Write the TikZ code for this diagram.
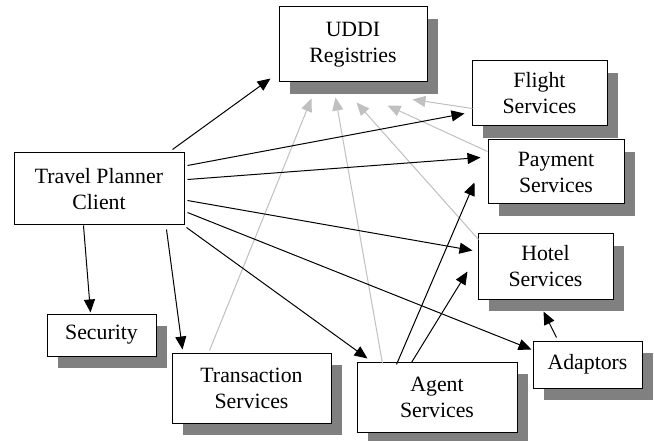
\documentclass[tikz,border=0pt]{standalone}
\usepackage{fontspec}
\setmainfont{Liberation Serif}
\newfontfamily\boxfont{Liberation Serif}
\usetikzlibrary{arrows.meta,calc,shadows}
\definecolor{shadowgray}{RGB}{128,128,128}
\definecolor{linkgray}{RGB}{192,192,192}
\tikzset{
  box/.style={draw=black, line width=1pt, fill=white, inner sep=0pt, align=center,
    font=\boxfont\fontsize{21.8}{26}\selectfont},
  shadowed/.style={drop shadow={shadow xshift=11pt, shadow yshift=-12pt, fill=shadowgray, opacity=1}},
  blackarrow/.style={draw=black, line width=1pt, -{Triangle[length=13pt,width=11pt]}},
  grayarrow/.style={draw=linkgray, line width=1pt, -{Triangle[length=13pt,width=11pt]}}
}
\begin{document}
\begin{tikzpicture}[x=1pt,y=-1pt]
\useasboundingbox (0,0) rectangle (654,441);
\fill[white] (0,0) rectangle (654,441);

\node[box, shadowed, minimum width=148pt, minimum height=75pt] (uddi) at (353,44.5) {UDDI\\Registries};
\node[box, shadowed, minimum width=135pt, minimum height=65pt] (flight) at (539.5,93.5) {Flight\\Services};
\node[box, shadowed, minimum width=136pt, minimum height=64pt] (pay) at (556,172) {Payment\\Services};
\node[box, minimum width=170pt, minimum height=72pt] (tp) at (99,189) {Travel Planner\\Client};
\node[box, shadowed, minimum width=135pt, minimum height=65pt] (hotel) at (545.5,266.5) {Hotel\\Services};
\node[box, shadowed, minimum width=109pt, minimum height=42pt] (sec) at (101.5,335) {Security};
\node[box, shadowed, minimum width=159pt, minimum height=70pt] (trans) at (251.5,388) {Transaction\\Services};
\node[box, shadowed, minimum width=160pt, minimum height=70pt] (agent) at (437,397) {Agent\\Services};
\node[box, shadowed, minimum width=109pt, minimum height=47pt] (adapt) at (587.5,364.5) {Adaptors};

% gray links to the registry
\draw[grayarrow] ($(trans.north west)+(38,-2)$) -- ($(uddi.north west)+(33,92)$);
\draw[grayarrow] ($(agent.north west)+(26,2)$) -- ($(uddi.north west)+(57,91)$);
\draw[grayarrow] ($(hotel.north west)+(1,6)$) -- ($(uddi.north west)+(78,96)$);
\draw[grayarrow] ($(pay.north west)+(0,12)$) -- ($(uddi.north west)+(109,99)$);
\draw[grayarrow] ($(flight.north west)+(1,48)$) -- ($(uddi.north west)+(134,93)$);

% black links
\draw[blackarrow] ($(tp.north west)+(159,-3)$) -- ($(uddi.north west)+(-8,72)$);
\draw[blackarrow] ($(tp.north west)+(174,13)$) -- ($(flight.north west)+(-7,53)$);
\draw[blackarrow] ($(tp.north west)+(174,27)$) -- ($(pay.north west)+(-7,18)$);
\draw[blackarrow] ($(tp.north west)+(174,48)$) -- ($(hotel.north west)+(-5,17)$);
\draw[blackarrow] ($(tp.north west)+(174,60)$) -- ($(adapt.north west)+(-1,9)$);
\draw[blackarrow] ($(tp.north west)+(173,75)$) -- ($(agent.north west)+(11,-3)$);
\draw[blackarrow] ($(tp.north west)+(153,77)$) -- ($(trans.north west)+(11,-3)$);
\draw[blackarrow] ($(tp.north west)+(70,73)$) -- ($(sec.north west)+(44,-1)$);
\draw[blackarrow] ($(agent.north west)+(40,3)$) -- ($(pay.north west)+(-13,43)$);
\draw[blackarrow] ($(agent.north west)+(55,1)$) -- ($(hotel.north west)+(-10,38)$);
\draw[blackarrow] ($(adapt.north west)+(24,-3)$) -- ($(hotel.north west)+(66,78)$);
\end{tikzpicture}
\end{document}
